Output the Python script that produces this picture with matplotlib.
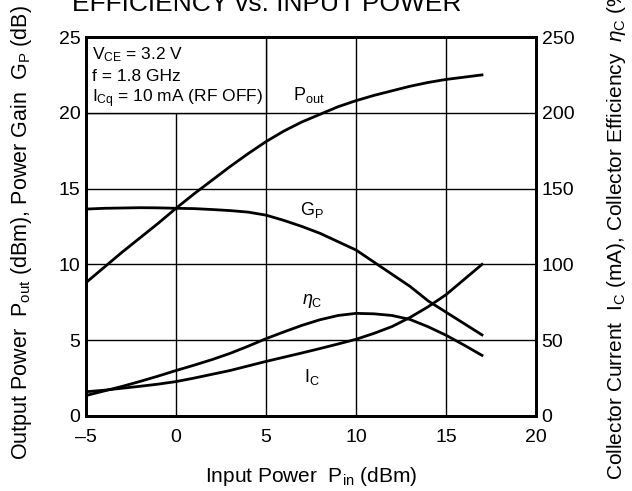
import matplotlib
matplotlib.use("Agg")
import matplotlib.pyplot as plt
from matplotlib.patches import Rectangle

plt.rcParams['font.family'] = ['Liberation Sans', 'DejaVu Sans']
plt.rcParams['mathtext.fontset'] = 'custom'
plt.rcParams['mathtext.rm'] = 'Liberation Sans'
plt.rcParams['mathtext.it'] = 'Liberation Sans:italic'
plt.rcParams['mathtext.bf'] = 'Liberation Sans:bold'

# ---- data ----
pin = [-5, -4, -3, -2, -1, 0, 1, 2, 3, 4, 5, 6, 7, 8, 9, 10, 11, 12, 13, 14, 15, 16, 17]
pout = [8.8, 9.8, 10.8, 11.75, 12.7, 13.7, 14.65, 15.55, 16.45, 17.3, 18.1, 18.8, 19.4,
        19.9, 20.4, 20.8, 21.15, 21.45, 21.75, 22.0, 22.2, 22.35, 22.5]
gp = [13.65, 13.7, 13.72, 13.74, 13.73, 13.7, 13.68, 13.62, 13.55, 13.45, 13.25, 12.9, 12.5,
      12.05, 11.5, 10.95, 10.15, 9.35, 8.55, 7.6, 6.85, 6.1, 5.35]
ic = [16, 17, 18.3, 19.6, 21, 22.7, 25, 27.5, 30, 33, 36, 38.8, 41.6, 44.5, 47.5, 50.6,
      54.5, 59, 65, 72, 80, 90, 100]
eta = [13.5, 16.5, 19.5, 22.8, 26.3, 30, 33.5, 37.2, 41.3, 46, 51, 55.5, 59.8, 63.5, 66.3,
       67.7, 67.4, 66.3, 63.7, 58.9, 53.3, 46.8, 40]

xticks = [-5, 0, 5, 10, 15, 20]
xticklabels = ['\u20135', '0', '5', '10', '15', '20']
yticks_left = [0, 5, 10, 15, 20, 25]
yticks_right = [0, 50, 100, 150, 200, 250]

W, H = 632, 491
fig = plt.figure(figsize=(W / 100, H / 100), dpi=100)
ax = fig.add_axes([86 / W, 75 / H, 450 / W, 379 / H])
ax2 = ax.twinx()

ax.set_xlim(-5, 20)
ax.set_ylim(0, 25)
ax2.set_ylim(0, 250)
ax.set_xticks(xticks)
ax.set_xticklabels(xticklabels)
ax.set_yticks(yticks_left)
ax2.set_yticks(yticks_right)

ax.set_axisbelow(True)
ax.grid(True, color='black', linewidth=1.0)

for a in (ax, ax2):
    for s in a.spines.values():
        s.set_linewidth(2.0)
ax.tick_params(axis='both', length=0, labelsize=14)
ax.tick_params(axis='x', pad=9)
ax.tick_params(axis='y', pad=4)
ax2.tick_params(axis='y', length=0, labelsize=14, pad=4)

# condition box (white, covers gridlines)
ax.add_patch(Rectangle((-5, 20), 10, 5, facecolor='white', edgecolor='black',
                       linewidth=1.0, zorder=1))

lw = 2.0
ax.plot(pin, pout, color='black', lw=lw, zorder=3)
ax.plot(pin, gp, color='black', lw=lw, zorder=3)
ax2.plot(pin, ic, color='black', lw=lw, zorder=3)
ax2.plot(pin, eta, color='black', lw=lw, zorder=3)

fs = 13
ax.text(6.5, 21.2, r'$\mathregular{P_{out}}$', fontsize=fs, ha='left', va='center', zorder=4)
ax.text(6.9, 13.6, r'$\mathregular{G_{P}}$', fontsize=fs, ha='left', va='center', zorder=4)
ax.text(7.0, 7.6, r'$\eta_{\mathregular{C}}$', fontsize=fs, ha='left', va='center', zorder=4)
ax.text(7.1, 2.57, r'$\mathregular{I_{C}}$', fontsize=fs, ha='left', va='center', zorder=4)

cfs = 12.5
ax.text(-4.67, 23.53, r'$\mathregular{V_{CE}}$ = 3.2 V', fontsize=cfs, ha='left', va='baseline', zorder=4)
ax.text(-4.67, 22.12, 'f = 1.8 GHz', fontsize=cfs, ha='left', va='baseline', zorder=4)
ax.text(-4.67, 20.67, r'$\mathregular{I_{Cq}}$ = 10 mA (RF OFF)', fontsize=cfs, ha='left', va='baseline', zorder=4)

# title (cropped at top in the reference)
fig.text(72 / W, 1 - 11 / H, 'EFFICIENCY vs. INPUT POWER', fontsize=19, ha='left', va='baseline')

# axis labels
fig.text(311 / W, 15 / H, r'Input Power  $\mathregular{P_{in}}$ (dBm)', fontsize=15, ha='center', va='center')
fig.text(22 / W, 31 / H, r'Output Power  $\mathregular{P_{out}}$ (dBm), Power Gain  $\mathregular{G_{P}}$ (dB)',
         fontsize=15.5, rotation=90, ha='center', va='bottom')
fig.text(616 / W, 11 / H, r'Collector Current  $\mathregular{I_{C}}$ (mA), Collector Efficiency  $\eta_{\mathregular{C}}$ (%)',
         fontsize=15.0, rotation=90, ha='center', va='bottom')

fig.savefig('out.png', dpi=100)
